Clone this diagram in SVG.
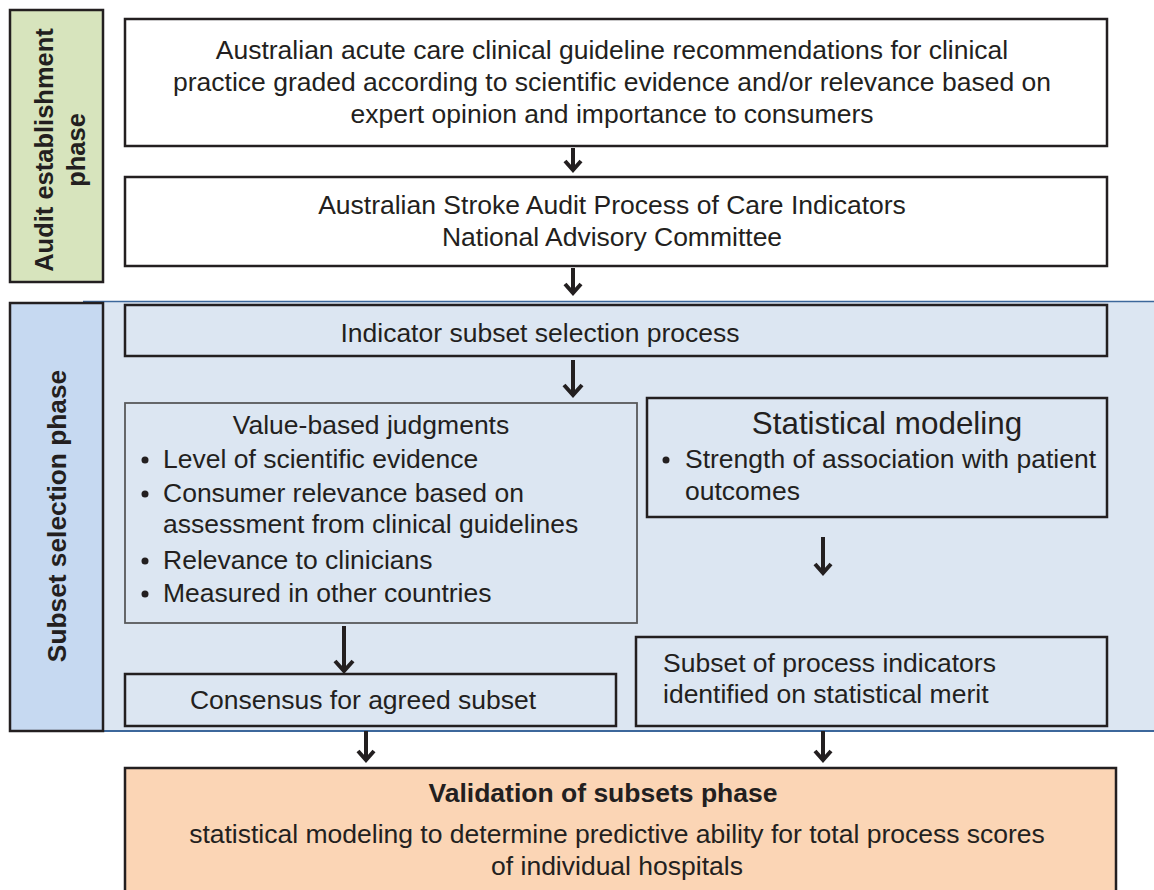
<svg xmlns="http://www.w3.org/2000/svg" width="1154" height="890" viewBox="0 0 1154 890">
<defs>
<style>
text{font-family:"Liberation Sans",Arial,sans-serif;fill:#231f20;font-size:26.5px}
.c{text-anchor:middle}
.b{font-weight:bold}
.box{fill:#fff;stroke:#231f20;stroke-width:2.5}
.bbox{fill:#dce6f2;stroke:#231f20;stroke-width:2.5}
.bbox2{fill:#dce6f2;stroke:#58595b;stroke-width:1.8}
.arr line{stroke:#231f20;stroke-width:4}
.arr path{fill:none;stroke:#231f20;stroke-width:4;stroke-linejoin:miter}
</style>
</defs>
<rect x="83" y="301" width="1071" height="430" fill="#dce6f2"/>
<line x1="83" y1="301.5" x2="1154" y2="301.5" stroke="#3c679b" stroke-width="1.5"/>
<line x1="83" y1="731" x2="1154" y2="731" stroke="#3c679b" stroke-width="2"/>
<g id="phase-audit">
<rect x="10" y="10" width="93" height="272" fill="#d7e4bd" stroke="#231f20" stroke-width="2.5"/>
<text class="c b" transform="translate(44,150) rotate(-90)" y="9" style="font-size:25.5px">Audit establishment</text>
<text class="c b" transform="translate(76,150) rotate(-90)" y="9" style="font-size:25.5px">phase</text>
</g>
<g id="phase-subset">
<rect x="10" y="303" width="93" height="428" fill="#c6d9f1" stroke="#231f20" stroke-width="2.5"/>
<text class="c b" transform="translate(57,516) rotate(-90)" y="9" style="font-size:26.3px">Subset selection phase</text>
</g>
<g id="guidelines">
<rect class="box" x="125" y="19" width="982" height="127"/>
<text class="c" x="612" y="59">Australian acute care clinical guideline recommendations for clinical</text>
<text class="c" x="612" y="91">practice graded according to scientific evidence and/or relevance based on</text>
<text class="c" x="612" y="123">expert opinion and importance to consumers</text>
</g>
<g id="committee">
<rect class="box" x="125" y="177" width="982" height="89"/>
<text class="c" x="612" y="214">Australian Stroke Audit Process of Care Indicators</text>
<text class="c" x="612" y="246">National Advisory Committee</text>
</g>
<g id="indicator-subset">
<rect class="bbox" x="125" y="305" width="982" height="51"/>
<text class="c" x="540" y="342">Indicator subset selection process</text>
</g>
<g id="value-based">
<rect class="bbox2" x="125" y="403" width="512" height="220"/>
<text class="c" x="371" y="434">Value-based judgments</text>
<circle cx="145" cy="460" r="3.5" fill="#231f20"/>
<text x="163" y="468">Level of scientific evidence</text>
<circle cx="145" cy="494" r="3.5" fill="#231f20"/>
<text x="163" y="502">Consumer relevance based on</text>
<text x="163" y="533">assessment from clinical guidelines</text>
<circle cx="145" cy="561" r="3.5" fill="#231f20"/>
<text x="163" y="569">Relevance to clinicians</text>
<circle cx="145" cy="594" r="3.5" fill="#231f20"/>
<text x="163" y="602">Measured in other countries</text>
</g>
<g id="statistical">
<rect class="bbox" x="647" y="398" width="460" height="119"/>
<text class="c" x="887" y="434" style="font-size:31.4px">Statistical modeling</text>
<circle cx="666" cy="460" r="3.5" fill="#231f20"/>
<text x="685" y="468">Strength of association with patient</text>
<text x="685" y="500">outcomes</text>
</g>
<g id="consensus">
<rect class="bbox" x="125" y="674" width="491" height="52"/>
<text class="c" x="363" y="709">Consensus for agreed subset</text>
</g>
<g id="stat-subset">
<rect class="bbox" x="636" y="637" width="471" height="89"/>
<text x="663" y="672">Subset of process indicators</text>
<text x="663" y="703">identified on statistical merit</text>
</g>
<g id="validation">
<rect x="125" y="768" width="991" height="130" fill="#fbd5b5" stroke="#231f20" stroke-width="2.5"/>
<text class="c b" x="603" y="802">Validation of subsets phase</text>
<text class="c" x="617" y="843">statistical modeling to determine predictive ability for total process scores</text>
<text class="c" x="617" y="875">of individual hospitals</text>
</g>
<g id="connectors" class="arr">
<line x1="573" y1="148" x2="573" y2="169"/><path d="M565,161 L573,170 L581,161"/>
<line x1="573" y1="268" x2="573" y2="292"/><path d="M565,284 L573,293 L581,284"/>
<line x1="573" y1="360" x2="573" y2="394"/><path d="M564,385 L573,395 L582,385"/>
<line x1="823" y1="537" x2="823" y2="572"/><path d="M815,564 L823,573 L831,564"/>
<line x1="344" y1="626" x2="344" y2="670"/><path d="M335,661 L344,671 L353,661"/>
<line x1="366" y1="731" x2="366" y2="759"/><path d="M358,751 L366,760 L374,751"/>
<line x1="823" y1="731" x2="823" y2="759"/><path d="M815,751 L823,760 L831,751"/>
</g>
</svg>
